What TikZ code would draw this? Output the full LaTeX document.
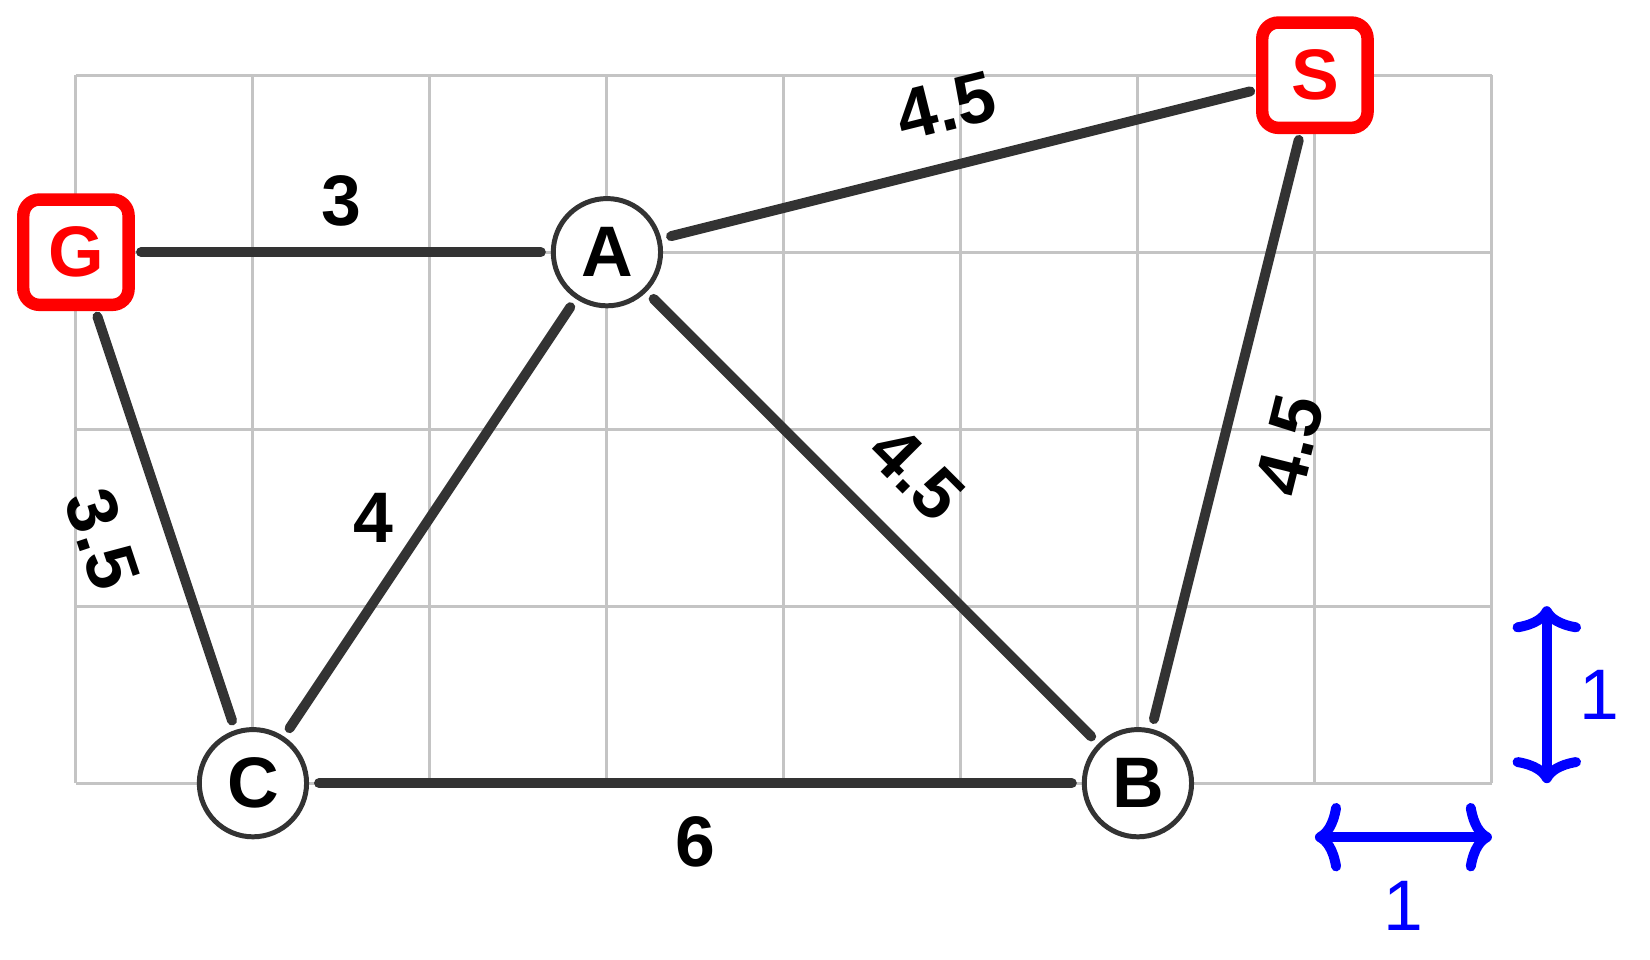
\documentclass[tikz,border=0pt]{standalone}
\usepackage{fontspec}
\setmainfont{Liberation Sans}
\usetikzlibrary{arrows.meta}
\definecolor{edgegray}{HTML}{333333}
\definecolor{gridgray}{HTML}{C4C4C4}
\begin{document}
\begin{tikzpicture}[
  vtx/.style={circle, draw=edgegray, line width=0.8pt, fill=white,
    minimum size=0.606cm, inner sep=0pt, outer sep=0pt,
    font=\fontsize{11.5}{13}\selectfont\bfseries},
  goal/.style={rectangle, rounded corners=2.6pt, draw=red, line width=2pt,
    fill=white, minimum size=0.595cm, inner sep=0pt, outer sep=0pt,
    text=red, font=\fontsize{11.5}{13}\selectfont\bfseries},
  con/.style={draw=edgegray, line width=1.6pt, line cap=round,
    shorten <=2pt, shorten >=2pt},
  wlabel/.style={inner sep=0pt, font=\fontsize{11.5}{13}\selectfont\bfseries},
  scalebarb/.tip={Computer Modern Rightarrow[length=4.2pt, width=11pt, line cap=round]},
  scalearrow/.style={blue, line width=1.6pt, {scalebarb}-{scalebarb}},
  scalelabel/.style={inner sep=0pt, text=blue, font=\fontsize{11.5}{13}\selectfont}
]
\useasboundingbox (-0.429,-0.998) rectangle (8.893,4.425);
\draw[gridgray, line width=0.5pt] (0,0) grid (8,4);

\node[goal] (G) at (0,3) {G};
\node[goal] (S) at (7,4) {S};
\node[vtx] (A) at (3,3) {A};
\node[vtx] (C) at (1,0) {C};
\node[vtx] (B) at (6,0) {B};

\draw[con] (G) -- node[wlabel, above=0.12cm] {3} (A);
\draw[con] (A) -- node[wlabel, sloped, above=0.165cm] {4.5} (S);
\draw[con] (G) -- node[wlabel, sloped, below=0.2cm] {3.5} (C);
\draw[con] (A) -- node[wlabel, left=0.18cm] {4} (C);
\draw[con] (A) -- node[wlabel, sloped, above=0.185cm] {4.5} (B);
\draw[con] (B) -- node[wlabel, sloped, below=0.2cm] {4.5} (S);
\draw[con] (C) -- node[wlabel, below=0.16cm] {6} (B);

\coordinate (v0) at (8.31,0);
\coordinate (v1) at (8.31,1);
\coordinate (h0) at (7,-0.305);
\coordinate (h1) at (8,-0.305);
\draw[scalearrow] (v0) -- node[scalelabel, right=0.155cm] {1} (v1);
\draw[scalearrow] (h0) -- node[scalelabel, below=0.22cm] {1} (h1);
\end{tikzpicture}
\end{document}
